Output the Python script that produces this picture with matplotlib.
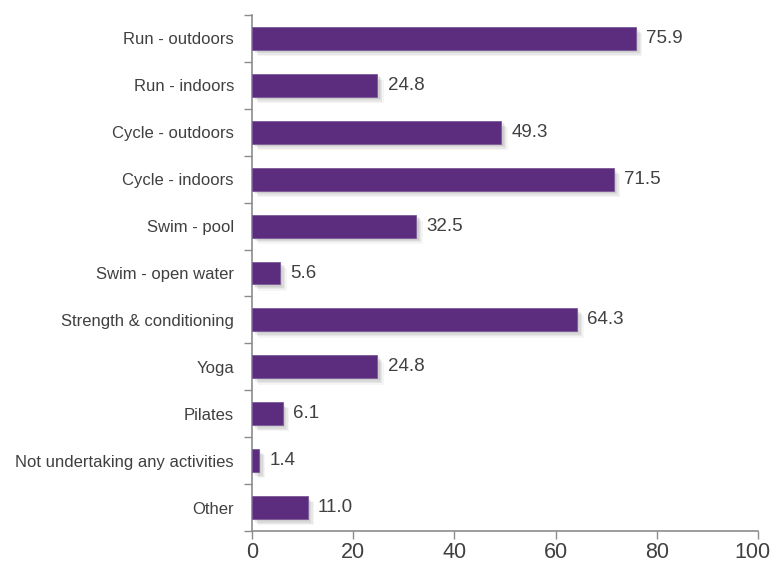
import matplotlib
matplotlib.use("Agg")
import matplotlib.pyplot as plt
import matplotlib.patheffects as pe
import matplotlib.transforms as mtransforms
import numpy as np

categories = [
    "Run - outdoors", "Run - indoors", "Cycle - outdoors", "Cycle - indoors",
    "Swim - pool", "Swim - open water", "Strength & conditioning", "Yoga",
    "Pilates", "Not undertaking any activities", "Other",
]
values = [75.9, 24.8, 49.3, 71.5, 32.5, 5.6, 64.3, 24.8, 6.1, 1.4, 11.0]
x_ticks = [0, 20, 40, 60, 80, 100]

plt.rcParams["font.family"] = ["Liberation Sans", "DejaVu Sans"]
text_color = "#404040"
axis_color = "#8c8c8c"
bar_color = "#5c2d7e"

fig = plt.figure(figsize=(7.75, 5.64), dpi=100)
ax = fig.add_axes([252 / 775, 33 / 564, 506 / 775, 516 / 564])

y = np.arange(len(categories))
shadow = [pe.SimplePatchShadow(offset=(o, -o), shadow_rgbFace="#000000", alpha=a)
          for o, a in [(4.5, 0.04), (3.5, 0.05), (2.5, 0.06), (1.5, 0.06)]]
bars = ax.barh(y, values, height=0.49, color=bar_color, edgecolor="#7a5a98",
               linewidth=0.6, zorder=3)
for b in bars:
    b.set_path_effects(shadow + [pe.Normal()])

for yi, v in zip(y, values):
    ax.text(v + 2.0, yi, f"{v:.1f}", va="center", ha="left",
            fontsize=13.5, color=text_color)

ax.set_ylim(len(categories) - 0.5, -0.5)
ax.set_xlim(0, 100)
ax.set_yticks(y)
ax.set_yticklabels(categories, fontsize=12, color=text_color)
ax.set_yticks(np.arange(-0.5, len(categories), 1), minor=True)
ax.tick_params(axis="y", which="major", length=0, pad=13)
ax.tick_params(axis="y", which="minor", length=6, color=axis_color, width=1)
ax.set_xticks(x_ticks)
ax.set_xticklabels([str(t) for t in x_ticks], fontsize=15.5, color=text_color)
ax.tick_params(axis="x", direction="out", length=6, color=axis_color, width=1, pad=2)

# keep the last tick label inside the figure edge
last = ax.get_xticklabels()[-1]
last.set_transform(last.get_transform()
                   + mtransforms.ScaledTranslation(-6 / 100, 0, fig.dpi_scale_trans))

for s in ["top", "right"]:
    ax.spines[s].set_visible(False)
for s in ["left", "bottom"]:
    ax.spines[s].set_color(axis_color)
    ax.spines[s].set_linewidth(1.2)

fig.savefig("out.png", dpi=100)
